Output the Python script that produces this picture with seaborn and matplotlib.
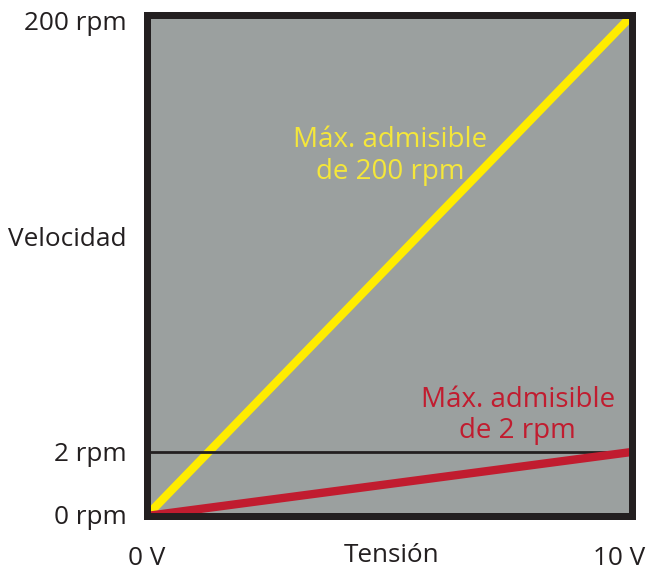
import matplotlib
matplotlib.use('Agg')
import matplotlib.pyplot as plt
import matplotlib.transforms as mtransforms
import seaborn as sns
import pandas as pd

# datos del esquema: tension (V) frente a velocidad (rpm)
tension = [0, 10]
velocidad_200 = [0, 200]
velocidad_2 = [0, 2]
ticks_x = [0, 10]
etiquetas_x = ['0 V', '10 V']
ticks_y = [0, 200]
etiquetas_y = ['0 rpm', '200 rpm']
tick_2rpm = 2

sns.set_style('white')
plt.rcParams['font.family'] = ['Open Sans', 'DejaVu Sans']

gris = '#9ba09f'
amarillo = '#ffec00'
rojo = '#c11c2f'
negro = '#231f20'
fs = 18.8

fig = plt.figure(figsize=(6.46, 5.71), dpi=100)
ax = fig.add_axes([0.2268, 0.0963, 0.979 - 0.2268, 0.9737 - 0.0963])
ax.set_facecolor(gris)

df200 = pd.DataFrame({'tension': tension, 'velocidad': velocidad_200})
sns.lineplot(data=df200, x='tension', y='velocidad', ax=ax, color=amarillo, lw=6, zorder=3)
ax.set_xlim(0, 10)
ax.set_ylim(0, 200)

# segundo eje para la escala de 2 rpm
ax2 = ax.twinx()
frac_2rpm = 0.128
ax2.set_ylim(0, tick_2rpm / frac_2rpm)
ax2.axhline(tick_2rpm, color=negro, lw=2, zorder=2)
df2 = pd.DataFrame({'tension': tension, 'velocidad': velocidad_2})
sns.lineplot(data=df2, x='tension', y='velocidad', ax=ax2, color=rojo, lw=6, zorder=3)
ax2.set_ylabel('')
ax2.yaxis.tick_left()
ax2.set_yticks([tick_2rpm])
ax2.set_yticklabels(['2 rpm'], fontsize=fs, color=negro)
ax2.tick_params(axis='y', length=0, pad=14.5)

for a in (ax, ax2):
    for s in a.spines.values():
        s.set_linewidth(5)
        s.set_color(negro)
        s.set_zorder(5)

ax.set_xticks(ticks_x)
ax.set_xticklabels(etiquetas_x, fontsize=fs, color=negro)
ax.set_yticks(ticks_y)
ax.set_yticklabels(etiquetas_y, fontsize=fs, color=negro)
ax.tick_params(axis='both', length=0)
ax.tick_params(axis='y', pad=14.5)
ax.tick_params(axis='x', pad=21.5)
lbl = ax.get_xticklabels()[-1]
lbl.set_transform(lbl.get_transform() + mtransforms.ScaledTranslation(-0.13, 0, fig.dpi_scale_trans))
# la etiqueta de 200 rpm va un poco mas abajo
lbl = ax.get_yticklabels()[-1]
lbl.set_transform(lbl.get_transform() + mtransforms.ScaledTranslation(0, -0.05, fig.dpi_scale_trans))
lbl = ax.get_yticklabels()[0]
lbl.set_transform(lbl.get_transform() + mtransforms.ScaledTranslation(0, 0.02, fig.dpi_scale_trans))

ax.set_xlabel('Tensión', fontsize=fs, color=negro, va='center')
ax.xaxis.set_label_coords(0.505, -0.078)
ax.set_ylabel('Velocidad', fontsize=fs, color=negro, rotation=0, ha='right', va='center')
ax.yaxis.set_label_coords(-0.040, 0.551)

ax2.text(0.501, 0.7185, 'Máx. admisible\nde 200 rpm', transform=ax.transAxes, fontsize=20,
         color='#f5e73a', ha='center', va='center', linespacing=1.15, zorder=6)
ax2.text(0.764, 0.2006, 'Máx. admisible\nde 2 rpm', transform=ax.transAxes, fontsize=20,
         color=rojo, ha='center', va='center', linespacing=1.15, zorder=6)

fig.savefig('out.png', dpi=100)
